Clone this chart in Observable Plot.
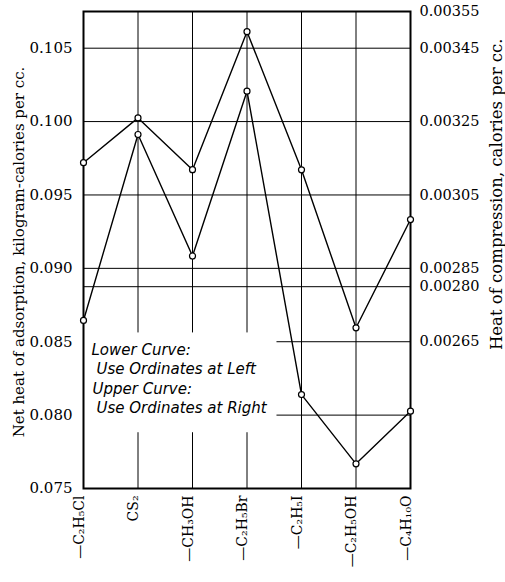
<!DOCTYPE html>
<html><head><meta charset="utf-8">
<script src="https://cdn.jsdelivr.net/npm/d3@7"></script>
<script src="https://cdn.jsdelivr.net/npm/@observablehq/plot@0.6"></script>
<style>body{margin:0;background:#fff}#chart svg{display:block}</style>
</head><body><div id="chart"></div>
<script>
// Categories (adsorbed vapours) and their tick labels
const categories = ["C₂H₅Cl", "CS₂", "CH₃OH", "C₂H₅Br", "C₂H₅I", "C₂H₅OH", "C₄H₁₀O"];
const tickLabels = ["—C₂H₅Cl", "CS₂", "—CH₃OH", "—C₂H₅Br", "—C₂H₅I", "—C₂H₅OH", "—C₄H₁₀O"];
// Lower curve: net heat of adsorption, kg-cal per cc (left ordinates)
const lowerCurve = [0.08645, 0.09912, 0.09084, 0.10207, 0.08140, 0.07668, 0.08027];
// Upper curve: heat of compression, cal per cc (right ordinates)
const upperCurve = [0.003138, 0.003260, 0.003119, 0.003495, 0.0031185, 0.002688, 0.002983];
// Axis ticks
const leftTicks = [0.075, 0.080, 0.085, 0.090, 0.095, 0.100, 0.105];
const rightTicks = [0.00265, 0.00280, 0.00285, 0.00305, 0.00325, 0.00345, 0.00355];
const leftGrid = [0.080, 0.085, 0.090, 0.095, 0.100, 0.105];
const rightGrid = [0.00280];
const legendLines = ["Lower Curve:", "Use Ordinates at Left", "Upper Curve:", "Use Ordinates at Right"];
const leftTitle = "Net heat of adsorption, kilogram-calories per cc.";
const rightTitle = "Heat of compression, calories per cc.";
// blank area behind the legend (x in category index, y in left units)
const legendArea = [{x1: 0, x2: 3.55, y1: 0.0788, y2: 0.0856}];

// right ordinate -> left ordinate
const toLeft = r => 0.105 + (r - 0.00345) / 0.04;
const toRight = l => 0.00345 + (l - 0.105) * 0.04;

const idx = (d, i) => i;
const legendDy = [343, 362, 382, 401];
const legendDx = [8, 13, 9, 13];

const chart = Plot.plot({
  width: 505, height: 582,
  marginLeft: 83, marginRight: 95, marginTop: 11, marginBottom: 94,
  style: {fontFamily: "DejaVu Serif", fontSize: "14.5px", background: "white", color: "black"},
  x: {type: "linear", domain: [0, categories.length - 1], axis: null},
  y: {domain: [0.075, 0.1075]},
  marks: [
    Plot.ruleY(leftGrid.concat(rightGrid.map(toLeft)), {stroke: "black", strokeWidth: 1}),
    Plot.ruleX(d3.range(1, categories.length - 1), {stroke: "black", strokeWidth: 1}),
    Plot.rect(legendArea, {x1: "x1", x2: "x2", y1: "y1", y2: "y2", fill: "white"}),
    Plot.frame({stroke: "black", strokeWidth: 2}),
    Plot.axisY({anchor: "left", ticks: leftTicks, tickSize: 0, tickPadding: 11,
      tickFormat: d3.format(".3f"), label: null, fontSize: 15}),
    Plot.axisY({anchor: "right", ticks: rightTicks.map(toLeft), tickSize: 0, tickPadding: 9,
      tickFormat: d => d3.format(".5f")(toRight(d)), label: null, fontSize: 14.5}),
    Plot.line(lowerCurve, {x: idx, y: d => d, stroke: "black", strokeWidth: 1.4}),
    Plot.line(upperCurve, {x: idx, y: d => toLeft(d), stroke: "black", strokeWidth: 1.4}),
    Plot.dot(lowerCurve, {x: idx, y: d => d, r: 3, fill: "white", stroke: "black", strokeWidth: 1.2}),
    Plot.dot(upperCurve, {x: idx, y: d => toLeft(d), r: 3, fill: "white", stroke: "black", strokeWidth: 1.2}),
    Plot.text(tickLabels, {x: idx, text: d => d, frameAnchor: "bottom", rotate: -90,
      textAnchor: "end", dy: 7, fontSize: 14}),
    Plot.text([leftTitle], {text: d => d, frameAnchor: "left", rotate: -90, textAnchor: "middle",
      dx: -64, dy: 2, fontSize: 15}),
    Plot.text([rightTitle], {text: d => d, frameAnchor: "top-right", rotate: -90,
      textAnchor: "end", dx: 80, dy: 27, fontSize: 16.5}),
    ...legendLines.map((t, i) => Plot.text([t], {text: d => d, frameAnchor: "top-left",
      textAnchor: "start", lineAnchor: "bottom", dx: legendDx[i], dy: legendDy[i],
      fontFamily: "DejaVu Sans", fontStyle: "italic", fontSize: 15}))
  ]
});
document.getElementById("chart").append(chart);
</script>
</body></html>
